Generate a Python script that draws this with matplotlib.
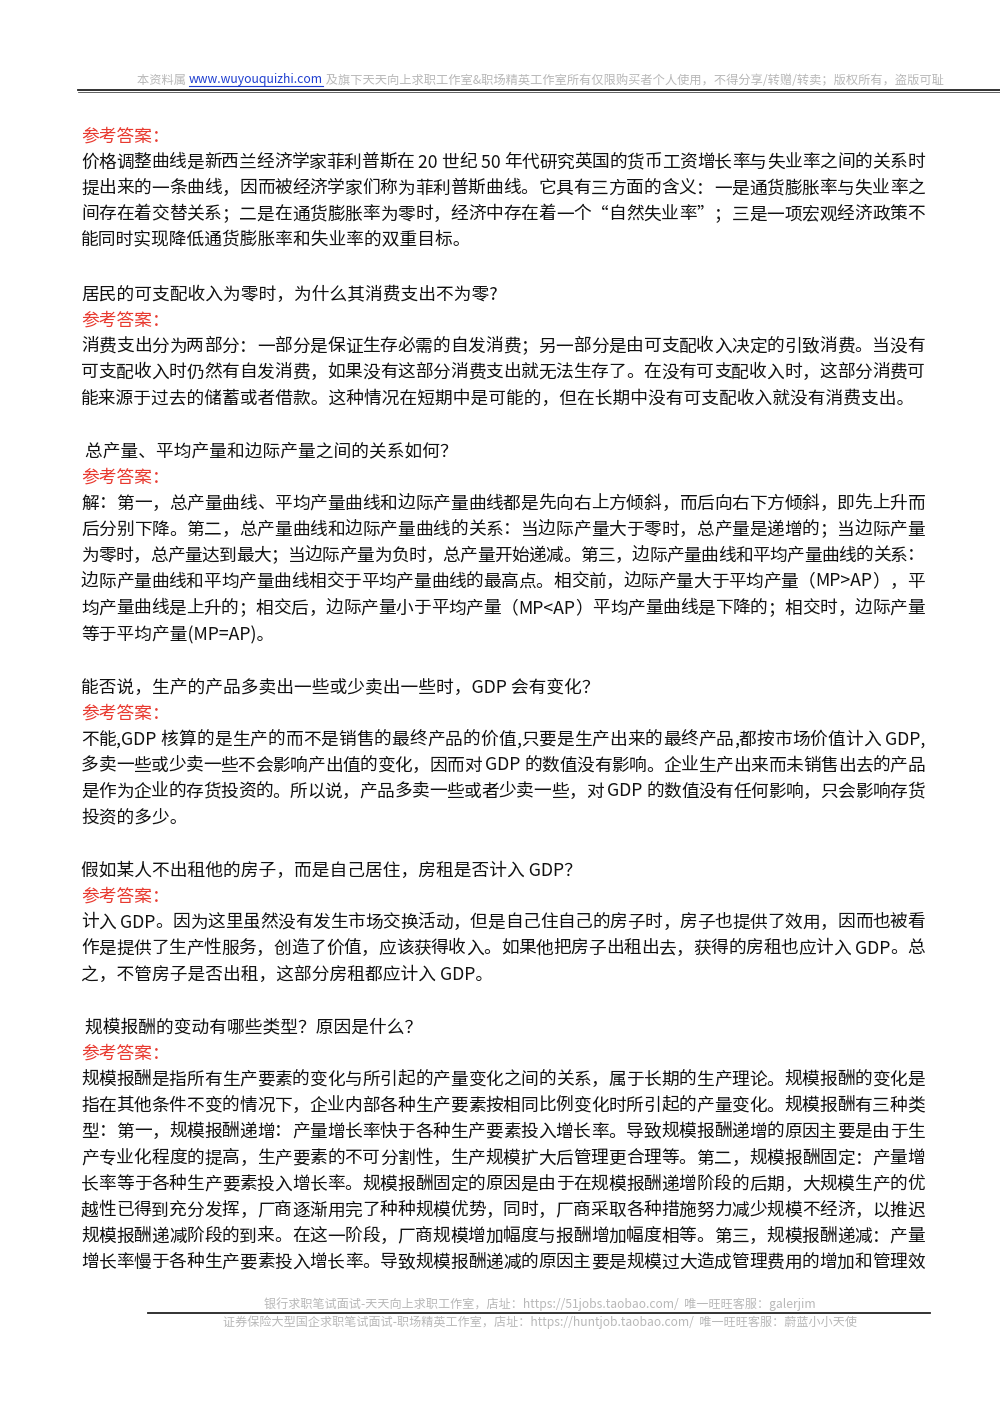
import matplotlib
matplotlib.use("Agg")
import matplotlib.pyplot as plt
from matplotlib.font_manager import FontProperties
import re

plt.rcParams['font.family'] = ['Noto Sans CJK SC', 'DejaVu Sans']

header = ["本资料属 ", "www.wuyouquizhi.com", " 及旗下天天向上求职工作室&职场精英工作室所有仅限购买者个人使用，不得分享/转赠/转卖；版权所有，盗版可耻"]
footer1 = "银行求职笔试面试-天天向上求职工作室，店址：https://51jobs.taobao.com/  唯一旺旺客服：galerjim"
footer2 = "证券保险大型国企求职笔试面试-职场精英工作室，店址：https://huntjob.taobao.com/  唯一旺旺客服：蔚蓝小小天使"

# (y pixel, text, kind, justify)
lines = [
    (134, "参考答案：", "red", False),
    (160, "价格调整曲线是新西兰经济学家菲利普斯在 20 世纪 50 年代研究英国的货币工资增长率与失业率之间的关系时", "k", True),
    (186, "提出来的一条曲线，因而被经济学家们称为菲利普斯曲线。它具有三方面的含义：一是通货膨胀率与失业率之", "k", True),
    (212, "间存在着交替关系；二是在通货膨胀率为零时，经济中存在着一个“自然失业率”；三是一项宏观经济政策不", "k", True),
    (238, "能同时实现降低通货膨胀率和失业率的双重目标。", "k", False),
    (292, "居民的可支配收入为零时，为什么其消费支出不为零?", "k", False),
    (318, "参考答案：", "red", False),
    (344, "消费支出分为两部分：一部分是保证生存必需的自发消费；另一部分是由可支配收入决定的引致消费。当没有", "k", True),
    (370, "可支配收入时仍然有自发消费，如果没有这部分消费支出就无法生存了。在没有可支配收入时，这部分消费可", "k", True),
    (396, "能来源于过去的储蓄或者借款。这种情况在短期中是可能的，但在长期中没有可支配收入就没有消费支出。", "k", False),
    (449, " 总产量、平均产量和边际产量之间的关系如何？", "k", False),
    (475, "参考答案：", "red", False),
    (501, "解：第一，总产量曲线、平均产量曲线和边际产量曲线都是先向右上方倾斜，而后向右下方倾斜，即先上升而", "k", True),
    (527, "后分别下降。第二，总产量曲线和边际产量曲线的关系：当边际产量大于零时，总产量是递增的；当边际产量", "k", True),
    (553, "为零时，总产量达到最大；当边际产量为负时，总产量开始递减。第三，边际产量曲线和平均产量曲线的关系：", "k", True),
    (579, "边际产量曲线和平均产量曲线相交于平均产量曲线的最高点。相交前，边际产量大于平均产量（MP>AP），平", "k", True),
    (606, "均产量曲线是上升的；相交后，边际产量小于平均产量（MP<AP）平均产量曲线是下降的；相交时，边际产量", "k", True),
    (632, "等于平均产量(MP=AP)。", "k", False),
    (685, "能否说，生产的产品多卖出一些或少卖出一些时，GDP 会有变化？", "k", False),
    (711, "参考答案：", "red", False),
    (737, "不能,GDP 核算的是生产的而不是销售的最终产品的价值,只要是生产出来的最终产品,都按市场价值计入 GDP,", "k", True),
    (763, "多卖一些或少卖一些不会影响产出值的变化，因而对 GDP 的数值没有影响。企业生产出来而未销售出去的产品", "k", True),
    (789, "是作为企业的存货投资的。所以说，产品多卖一些或者少卖一些，对 GDP 的数值没有任何影响，只会影响存货", "k", True),
    (815, "投资的多少。", "k", False),
    (868, "假如某人不出租他的房子，而是自己居住，房租是否计入 GDP？", "k", False),
    (894, "参考答案：", "red", False),
    (920, "计入 GDP。因为这里虽然没有发生市场交换活动，但是自己住自己的房子时，房子也提供了效用，因而也被看", "k", True),
    (946, "作是提供了生产性服务，创造了价值，应该获得收入。如果他把房子出租出去，获得的房租也应计入 GDP。总", "k", True),
    (972, "之，不管房子是否出租，这部分房租都应计入 GDP。", "k", False),
    (1025, " 规模报酬的变动有哪些类型？原因是什么？", "k", False),
    (1051, "参考答案：", "red", False),
    (1077, "规模报酬是指所有生产要素的变化与所引起的产量变化之间的关系，属于长期的生产理论。规模报酬的变化是", "k", True),
    (1103, "指在其他条件不变的情况下，企业内部各种生产要素按相同比例变化时所引起的产量变化。规模报酬有三种类", "k", True),
    (1129, "型：第一，规模报酬递增：产量增长率快于各种生产要素投入增长率。导致规模报酬递增的原因主要是由于生", "k", True),
    (1156, "产专业化程度的提高，生产要素的不可分割性，生产规模扩大后管理更合理等。第二，规模报酬固定：产量增", "k", True),
    (1182, "长率等于各种生产要素投入增长率。规模报酬固定的原因是由于在规模报酬递增阶段的后期，大规模生产的优", "k", True),
    (1208, "越性已得到充分发挥，厂商逐渐用完了种种规模优势，同时，厂商采取各种措施努力减少规模不经济，以推迟", "k", True),
    (1234, "规模报酬递减阶段的到来。在这一阶段，厂商规模增加幅度与报酬增加幅度相等。第三，规模报酬递减：产量", "k", True),
    (1260, "增长率慢于各种生产要素投入增长率。导致规模报酬递减的原因主要是规模过大造成管理费用的增加和管理效", "k", True),
]

W, H = 1000, 1414
fig = plt.figure(figsize=(10, 14.14), dpi=100)
fig.patch.set_facecolor('white')
ax = fig.add_axes([0, 0, 1, 1])
ax.set_xlim(0, W); ax.set_ylim(H, 0); ax.axis('off')
renderer = fig.canvas.get_renderer()
prop = FontProperties(family=['Noto Sans CJK SC', 'DejaVu Sans'], size=12.75)

def width(s, p=prop):
    w, h, d = renderer.get_text_width_height_descent(s, p, ismath=False)
    return w

DY = 2.5
X0, X1 = 81, 925
for y, txt, kind, just in lines:
    color = '#e8392f' if kind == 'red' else '#111111'
    if not just:
        ax.text(X0, y + DY, txt, fontproperties=prop, color=color, va='center', ha='left')
        continue
    toks = re.findall(r'[A-Za-z0-9<>=().,/ ]+|.', txt)
    widths = [width(t) for t in toks]
    extra = (X1 - X0) - sum(widths)
    gap = extra / max(len(toks) - 1, 1)
    x = X0
    for t, w in zip(toks, widths):
        ax.text(x, y + DY, t, fontproperties=prop, color=color, va='center', ha='left')
        x += w + gap

# header
hp = FontProperties(family=['Noto Sans CJK SC', 'DejaVu Sans'], size=8.8)
x = 137
for i, s in enumerate(header):
    c = '#1f3fd0' if i == 1 else '#b8b8b8'
    ax.text(x, 80, s, fontproperties=hp, color=c, va='center', ha='left')
    w = width(s, hp)
    if i == 1:
        ax.plot([x, x + w], [86, 86], color=c, lw=0.8)
    x += w
ax.plot([78, 1000], [90, 90], color='#222222', lw=1.3)
ax.plot([78, 1000], [92, 92], color='#222222', lw=0.5)

fp = FontProperties(family=['Noto Sans CJK SC', 'DejaVu Sans'], size=8.7)
ax.text(540, 1304, footer1, fontproperties=fp, color='#b8b8b8', va='center', ha='center')
ax.plot([148, 930], [1313, 1313], color='#222222', lw=1.3)
ax.text(540, 1322, footer2, fontproperties=fp, color='#b8b8b8', va='center', ha='center')

fig.savefig('out.png', dpi=100, facecolor='white')
